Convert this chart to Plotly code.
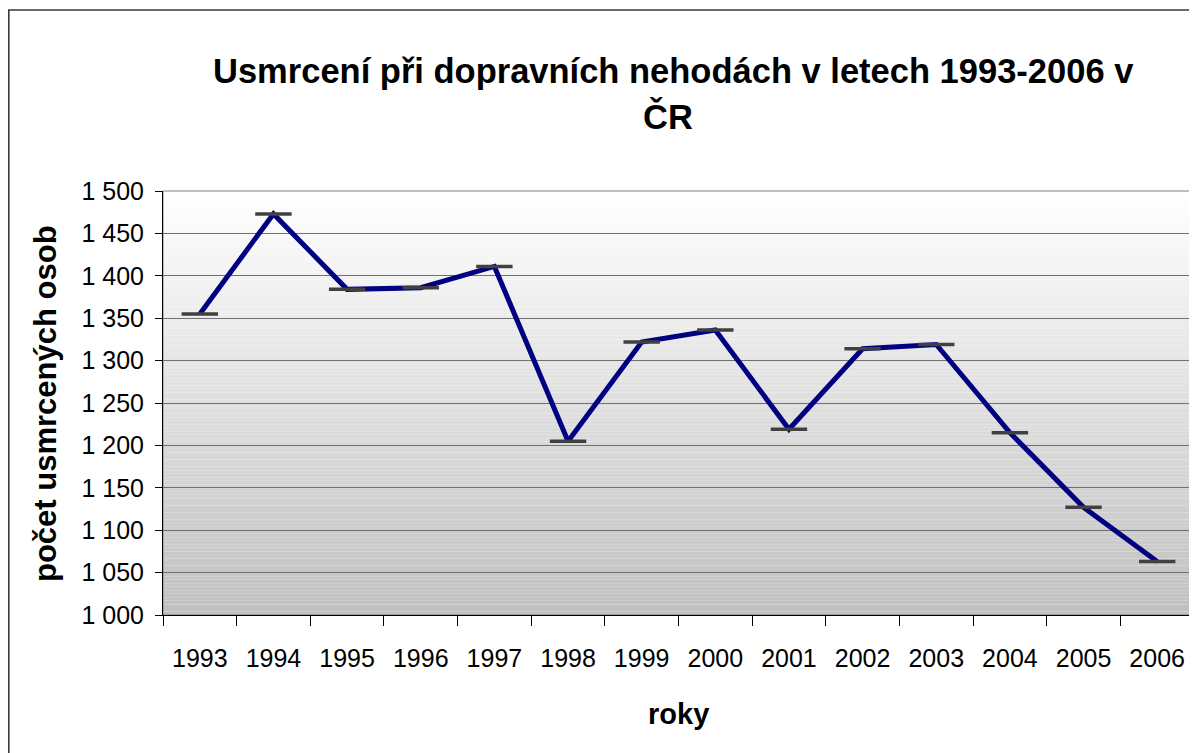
import plotly.graph_objects as go

# ---- data ----
years = ["1993", "1994", "1995", "1996", "1997", "1998", "1999",
         "2000", "2001", "2002", "2003", "2004", "2005", "2006"]
deaths = [1355, 1473, 1384, 1386, 1411, 1205, 1322,
          1336, 1219, 1314, 1319, 1215, 1127, 1063]
y_tick_values = [1000, 1050, 1100, 1150, 1200, 1250, 1300, 1350, 1400, 1450, 1500]
y_tick_labels = [f"{v:,}".replace(",", " ") for v in y_tick_values]

title_line1 = "Usmrcení při dopravních nehodách v letech 1993-2006 v"
title_line2 = "ČR"
y_title = "počet usmrcených osob"
x_title = "roky"

# ---- geometry (page offset 8px from body margin) ----
OFF = 8
W, H = 1197 - OFF, 753 - OFF
PL, PR, PT, PB = 163, 1194, 191, 615  # plot area in page pixels
ML = PL - OFF
MT = PT - OFF
MR = W - (PR - OFF)
MB = H - (PB - OFF)
PW = PR - PL
PH = PB - PT

def px_x(p):
    return (p - PL) / PW

def px_y(p):
    return (PB - p) / PH

FONT = "Liberation Sans, Arial, sans-serif"

fig = go.Figure()
fig.add_trace(go.Scatter(
    x=years, y=deaths, mode="lines+markers",
    line=dict(color="#000080", width=5),
    marker=dict(symbol="line-ew", size=26, color="#404040",
                line=dict(color="#404040", width=3.5)),
    cliponaxis=False, showlegend=False, hoverinfo="x+y",
))

shapes = []
N = 120
for i in range(N):
    t = (i + 0.5) / N  # 0 bottom, 1 top
    c = int(round(192 + (255 - 192) * t))
    shapes.append(dict(type="rect", xref="x domain", yref="y domain",
                       x0=0, x1=1, y0=i / N, y1=(i + 1) / N,
                       fillcolor=f"rgb({c},{c},{c})", line=dict(width=0),
                       layer="below"))
shapes.append(dict(type="rect", xref="x domain", yref="y domain",
                   x0=0, x1=1, y0=0, y1=1, fillcolor="rgba(0,0,0,0)",
                   line=dict(color="#808080", width=1), layer="below"))
shapes.append(dict(type="rect", xref="paper", yref="paper",
                   x0=px_x(8.8), x1=px_x(1230), y0=px_y(800), y1=px_y(10),
                   fillcolor="rgba(0,0,0,0)",
                   line=dict(color="#3a3a3a", width=1.6), layer="above"))

annotations = [
    dict(text=f"<b>{title_line1}</b>", x=px_x(673), y=px_y(71),
         xref="paper", yref="paper", showarrow=False,
         xanchor="center", yanchor="middle",
         font=dict(family=FONT, size=34.5, color="black")),
    dict(text=f"<b>{title_line2}</b>", x=px_x(668), y=px_y(116),
         xref="paper", yref="paper", showarrow=False,
         xanchor="center", yanchor="middle",
         font=dict(family=FONT, size=34.5, color="black")),
    dict(text=f"<b>{y_title}</b>", x=px_x(45), y=px_y(404),
         xref="paper", yref="paper", showarrow=False, textangle=-90,
         xanchor="center", yanchor="middle",
         font=dict(family=FONT, size=31, color="black")),
    dict(text=f"<b>{x_title}</b>", x=px_x(678), y=px_y(714),
         xref="paper", yref="paper", showarrow=False,
         xanchor="center", yanchor="middle",
         font=dict(family=FONT, size=29, color="black")),
]

fig.update_layout(
    width=W, height=H,
    margin=dict(l=ML, r=MR, t=MT, b=MB, pad=0),
    paper_bgcolor="white", plot_bgcolor="white",
    shapes=shapes, annotations=annotations,
    font=dict(family=FONT, color="black"),
    xaxis=dict(type="category", range=[-0.5, 13.5], tickson="boundaries",
               ticks="outside", ticklen=10, tickcolor="black", tickwidth=1,
               ticklabelstandoff=21,
               showline=True, linecolor="black", linewidth=1,
               showgrid=False, zeroline=False,
               tickfont=dict(family=FONT, size=25, color="black")),
    yaxis=dict(range=[1000, 1500], tickvals=y_tick_values, ticktext=y_tick_labels,
               ticks="outside", ticklen=7, tickcolor="black", tickwidth=1,
               ticklabelstandoff=6,
               showline=True, linecolor="black", linewidth=1,
               showgrid=True, gridcolor="#707070", gridwidth=1,
               zeroline=False,
               tickfont=dict(family=FONT, size=25, color="black")),
)

fig.write_html("out.html")
